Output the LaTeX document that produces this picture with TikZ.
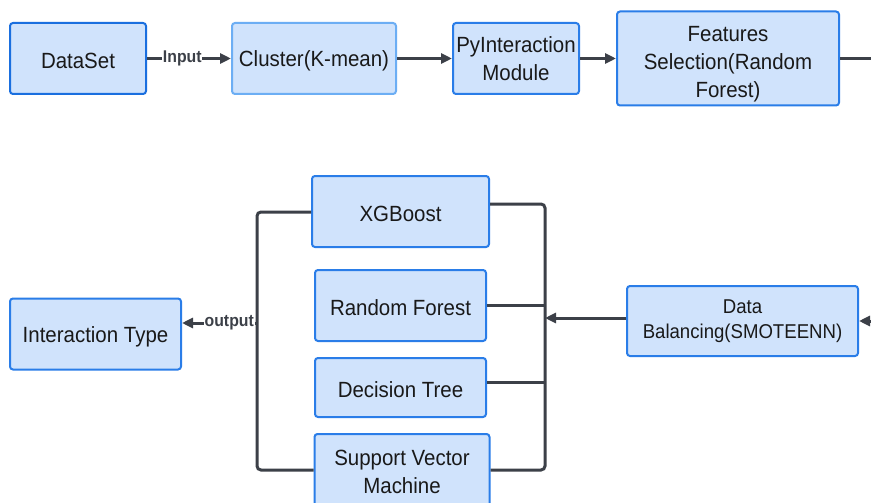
\documentclass[tikz,border=0pt]{standalone}
\usepackage{fontspec}
\setmainfont{Liberation Sans}[FakeStretch=0.93]
\usetikzlibrary{arrows.meta}
\definecolor{boxfill}{HTML}{D0E3FC}
\definecolor{boxline}{HTML}{2A7DE8}
\definecolor{boxlight}{HTML}{6CAEF4}
\definecolor{boxdark}{HTML}{1A6FDF}
\definecolor{wirec}{HTML}{3C4048}
\begin{document}
\begin{tikzpicture}[x=1pt,y=-1pt,
  box/.style={draw=boxline, fill=boxfill, line width=2pt, rounded corners=3pt, inner sep=0pt,
    align=center, font=\fontsize{22}{28}\selectfont, text=black!90,
    execute at begin node={\rule{0pt}{21pt}}},
  wire/.style={draw=wirec, line width=3pt},
  arr/.style={wire, -{Triangle[length=11pt,width=10pt]}},
  lab/.style={fill=white, inner sep=0.8pt, font=\fontsize{17}{19}\selectfont\bfseries, text=wirec}]
\useasboundingbox (0,0) rectangle (871,503);
\clip (0,0) rectangle (871,503);
\fill[white] (0,0) rectangle (871,503);

% top row
\node[box, draw=boxdark, minimum width=136pt, minimum height=71pt] (ds) at (78,58.5) {DataSet};
\node[box, draw=boxlight, minimum width=164pt, minimum height=71pt] (cl) at (314,58.5) {Cluster(K-mean)};
\node[box, minimum width=126pt, minimum height=71pt] (py) at (516,58.5) {PyInteraction\\Module};
\node[box, minimum width=222pt, minimum height=94pt] (fs) at (728,58.5) {\rule{0pt}{26pt}Features\\Selection(Random\\Forest)};
\coordinate (outR) at (885,58.5);

% bottom
\node[box, minimum width=231pt, minimum height=70pt, font=\fontsize{20}{25}\selectfont] (db) at (742.5,321) {Data\\Balancing(SMOTEENN)};
\coordinate (inR) at (885,321);
\node[box, minimum width=177pt, minimum height=71pt] (xg) at (400.5,211.5) {XGBoost};
\node[box, minimum width=171pt, minimum height=71pt] (rf) at (400.5,305.5) {Random Forest};
\node[box, minimum width=171pt, minimum height=59pt] (dt) at (400.5,387.5) {Decision Tree};
\node[box, minimum width=175pt, minimum height=76pt] (svm) at (402,472) {Support Vector\\Machine};
\node[box, minimum width=171pt, minimum height=71pt] (it) at (95.5,334) {Interaction Type};

\coordinate (rb) at (545,318);
\coordinate (lb) at (257,323);
\coordinate (rtop) at (545,204);
\coordinate (rbot) at (545,470);
\coordinate (ltop) at (257,212);
\coordinate (lbot) at (257,470);
\coordinate (rdt) at (545,382);

% connectors top
\draw[arr] (ds.east) -- node[lab, pos=0.42] {Input} (cl.west);
\draw[arr] (cl.east) -- (py.west);
\draw[arr] (py.east) -- (fs.west);
\draw[wire] (fs.east) -- (outR);

% into data balancing
\draw[arr] (inR) -- (db.east);
\draw[arr] (db.west |- rb) -- (rb);

% right bus
\draw[wire, rounded corners=4pt] (xg.east |- rtop) -- (rtop) -- (rbot) -- (svm.east |- rbot);
\draw[wire] (rf.east) -- (rf.east -| rb);
\draw[wire] (dt.east |- rdt) -- (rdt);

% left bus
\draw[wire, rounded corners=4pt] (xg.west |- ltop) -- (ltop) -- (lbot) -- (svm.west |- lbot);
\draw[arr] (lb) -- node[lab, pos=0.37] {output} (it.east |- lb);
\end{tikzpicture}
\end{document}
